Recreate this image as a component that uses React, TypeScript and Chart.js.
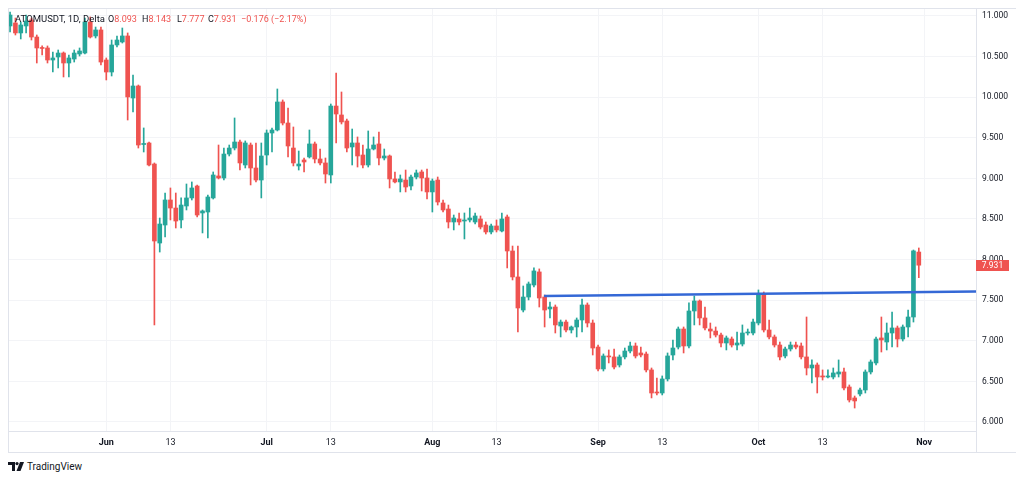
import React, { useEffect, useRef } from "react";
import { Chart, registerables } from "chart.js";

Chart.register(...registerables);

// Daily candles, first one 18 days before Jun 1 (day 0 = Jun 1)
const FIRST_DAY = -18;

const OPEN = [
  10.877, 10.914, 10.791, 10.877, 10.951, 10.741, 10.612, 10.606, 10.458, 10.495,
  10.544, 10.421, 10.470, 10.532, 10.544, 10.926, 10.754, 10.828, 10.458, 10.310,
  10.643, 10.680, 10.754, 9.990, 10.138, 9.417, 9.436, 9.177, 8.204, 8.426,
  8.734, 8.635, 8.488, 8.660, 8.759, 8.906, 8.574, 8.586, 8.759, 9.030,
  9.005, 9.300, 9.374, 9.448, 9.165, 9.411, 9.128, 8.980, 9.288, 9.559,
  9.596, 9.941, 9.682, 9.374, 9.153, 9.227, 9.264, 9.424, 9.239, 9.190,
  9.042, 9.891, 9.781, 9.707, 9.387, 9.436, 9.288, 9.165, 9.362, 9.424,
  9.251, 9.276, 8.993, 8.956, 8.980, 8.906, 9.017, 9.079, 9.005, 8.833,
  8.980, 8.697, 8.623, 8.463, 8.500, 8.475, 8.488, 8.463, 8.500, 8.426,
  8.340, 8.414, 8.352, 8.525, 8.106, 7.786, 7.379, 7.539, 7.687, 7.848,
  7.539, 7.392, 7.416, 7.182, 7.231, 7.133, 7.170, 7.256, 7.441, 7.219,
  6.923, 6.653, 6.813, 6.801, 6.702, 6.801, 6.874, 6.936, 6.850, 6.837,
  6.641, 6.369, 6.357, 6.530, 6.825, 6.923, 7.145, 6.936, 7.367, 7.490,
  7.281, 7.145, 7.120, 7.071, 6.973, 7.022, 6.948, 6.960, 7.096, 7.096,
  7.219, 7.577, 7.133, 7.047, 6.948, 6.813, 6.899, 6.948, 6.936, 6.801,
  6.665, 6.702, 6.567, 6.554, 6.554, 6.591, 6.616, 6.431, 6.296, 6.345,
  6.394, 6.616, 6.727, 7.035, 6.985, 7.096, 7.158, 7.022, 7.170, 7.293,
  8.093,
];

const HIGH = [
  11.049, 10.975, 10.926, 11.012, 10.975, 10.766, 10.631, 10.631, 10.557, 10.581,
  10.557, 10.520, 10.581, 10.606, 10.975, 10.988, 10.864, 10.864, 10.483, 10.704,
  10.754, 10.852, 10.791, 10.273, 10.150, 9.621, 9.448, 9.190, 8.512, 8.820,
  8.882, 8.820, 8.759, 8.931, 8.956, 8.919, 8.611, 8.795, 9.079, 9.411,
  9.374, 9.411, 9.744, 9.473, 9.461, 9.436, 9.436, 9.436, 9.596, 9.621,
  10.101, 9.966, 9.867, 9.633, 9.337, 9.251, 9.596, 9.448, 9.362, 9.251,
  9.916, 10.298, 10.064, 9.731, 9.608, 9.510, 9.411, 9.584, 9.510, 9.571,
  9.362, 9.288, 9.079, 9.042, 9.103, 9.042, 9.103, 9.103, 9.116, 8.993,
  9.017, 8.734, 8.672, 8.549, 8.574, 8.574, 8.635, 8.574, 8.537, 8.463,
  8.438, 8.488, 8.574, 8.549, 8.167, 8.167, 7.675, 7.724, 7.897, 7.885,
  7.564, 7.478, 7.441, 7.256, 7.256, 7.182, 7.281, 7.515, 7.466, 7.256,
  6.948, 6.838, 6.887, 6.899, 6.825, 6.911, 6.985, 6.973, 6.923, 6.862,
  6.665, 6.542, 6.567, 6.850, 7.010, 7.170, 7.170, 7.466, 7.552, 7.503,
  7.416, 7.219, 7.170, 7.096, 7.059, 7.047, 7.108, 7.195, 7.145, 7.268,
  7.626, 7.601, 7.256, 7.071, 6.985, 6.923, 6.985, 6.985, 6.973, 7.293,
  6.764, 6.727, 6.641, 6.641, 6.665, 6.764, 6.665, 6.456, 6.320, 6.419,
  6.641, 6.764, 7.047, 7.293, 7.219, 7.355, 7.182, 7.195, 7.379, 8.118,
  8.143,
];

const LOW = [
  10.803, 10.766, 10.717, 10.791, 10.704, 10.421, 10.520, 10.421, 10.310, 10.360,
  10.249, 10.249, 10.433, 10.507, 10.532, 10.729, 10.729, 10.396, 10.212, 10.261,
  10.618, 10.667, 9.719, 9.818, 9.374, 9.325, 9.153, 7.195, 8.093, 8.278,
  8.488, 8.389, 8.389, 8.611, 8.734, 8.525, 8.328, 8.266, 8.746, 8.993,
  8.980, 9.276, 9.350, 9.103, 9.128, 8.919, 8.956, 8.759, 9.165, 9.325,
  9.584, 9.658, 9.264, 9.153, 9.103, 9.079, 9.251, 9.190, 9.165, 8.943,
  8.943, 9.436, 9.670, 9.325, 9.165, 9.140, 9.128, 9.140, 9.350, 9.165,
  9.227, 8.882, 8.943, 8.833, 8.833, 8.857, 8.993, 8.845, 8.746, 8.586,
  8.672, 8.586, 8.389, 8.365, 8.426, 8.254, 8.463, 8.438, 8.377, 8.315,
  8.315, 8.340, 8.340, 7.897, 7.749, 7.108, 7.355, 7.503, 7.663, 7.416,
  7.170, 7.281, 7.096, 7.047, 7.108, 7.096, 7.047, 7.108, 7.170, 6.825,
  6.628, 6.628, 6.727, 6.653, 6.677, 6.776, 6.850, 6.788, 6.801, 6.616,
  6.296, 6.333, 6.333, 6.505, 6.764, 6.899, 6.850, 6.911, 7.195, 7.195,
  7.133, 7.035, 7.047, 6.923, 6.887, 6.923, 6.887, 6.936, 7.071, 7.071,
  7.195, 7.108, 7.022, 6.923, 6.764, 6.788, 6.874, 6.899, 6.776, 6.579,
  6.480, 6.357, 6.517, 6.542, 6.530, 6.554, 6.394, 6.246, 6.172, 6.320,
  6.357, 6.591, 6.702, 6.862, 6.887, 6.924, 6.924, 6.997, 7.047, 7.231,
  7.777,
];

const CLOSE = [
  11.012, 10.791, 10.889, 10.938, 10.741, 10.606, 10.600, 10.458, 10.483, 10.544,
  10.421, 10.483, 10.544, 10.569, 10.926, 10.741, 10.828, 10.433, 10.310, 10.643,
  10.704, 10.754, 10.003, 10.138, 9.411, 9.430, 9.165, 8.229, 8.438, 8.734,
  8.635, 8.475, 8.672, 8.759, 8.882, 8.549, 8.599, 8.771, 9.042, 9.005,
  9.300, 9.374, 9.448, 9.190, 9.436, 9.128, 8.980, 9.276, 9.559, 9.596,
  9.941, 9.682, 9.399, 9.190, 9.177, 9.202, 9.424, 9.239, 9.190, 9.054,
  9.891, 9.793, 9.695, 9.374, 9.436, 9.276, 9.165, 9.362, 9.411, 9.251,
  9.276, 8.993, 8.956, 8.993, 8.894, 9.017, 9.067, 9.005, 8.833, 8.968,
  8.709, 8.611, 8.463, 8.512, 8.463, 8.488, 8.512, 8.537, 8.401, 8.340,
  8.414, 8.365, 8.500, 8.106, 7.786, 7.404, 7.539, 7.700, 7.860, 7.527,
  7.379, 7.416, 7.195, 7.231, 7.133, 7.170, 7.256, 7.441, 7.219, 6.911,
  6.653, 6.813, 6.801, 6.677, 6.801, 6.874, 6.936, 6.813, 6.825, 6.641,
  6.357, 6.357, 6.530, 6.813, 6.911, 7.145, 6.936, 7.367, 7.490, 7.281,
  7.158, 7.120, 7.071, 6.973, 7.035, 6.948, 6.973, 7.096, 7.108, 7.231,
  7.577, 7.133, 7.047, 6.948, 6.801, 6.899, 6.948, 6.923, 6.801, 6.665,
  6.702, 6.554, 6.554, 6.567, 6.604, 6.616, 6.419, 6.271, 6.259, 6.394,
  6.616, 6.739, 7.022, 7.010, 7.096, 7.158, 7.022, 7.170, 7.293, 8.107,
  7.931,
];

// Horizontal trend line (day, price)
const TREND_DAYS = [81.9, 163.5];
const TREND_PRICES = [7.552, 7.607];

// Axes
const X_TICK_DAYS = [0, 12, 30, 42, 61, 73, 92, 104, 122, 134, 153];
const X_TICK_LABELS = ["Jun", "13", "Jul", "13", "Aug", "13", "Sep", "13", "Oct", "13", "Nov"];
const X_TICK_BOLD = [true, false, true, false, true, false, true, false, true, false, true];
const Y_TICKS = [6, 6.5, 7, 7.5, 8, 8.5, 9, 9.5, 10, 10.5, 11];
const X_MIN = -18.2;
const X_MAX = 162.7;
const Y_MIN = 5.889;
const Y_MAX = 11.086;

const SYMBOL = "ATOMUSDT, 1D, Delta";

const UP = "#26a69a";
const DOWN = "#ef5350";
const TREND_COLOR = "#3468d6";
const FONT = "Roboto, 'Liberation Sans', sans-serif";

const last = OPEN.length - 1;
const lastUp = CLOSE[last] >= OPEN[last];
const change = CLOSE[last] - CLOSE[last - 1];
const changePct = (change / CLOSE[last - 1]) * 100;
const fmtSigned = (v: number, d: number) => (v < 0 ? "\u2212" : "+") + Math.abs(v).toFixed(d);

const priceLabelPlugin = {
  id: "priceLabel",
  afterDraw(chart: any) {
    const { ctx, chartArea, scales } = chart;
    const y = scales.y.getPixelForValue(CLOSE[last]);
    ctx.save();
    ctx.strokeStyle = "#e0e3eb";
    ctx.lineWidth = 1;
    ctx.beginPath();
    ctx.moveTo(Math.round(chartArea.right) + 0.5, chartArea.bottom);
    ctx.lineTo(Math.round(chartArea.right) + 0.5, chart.height);
    ctx.stroke();
    ctx.fillStyle = lastUp ? UP : DOWN;
    ctx.fillRect(chartArea.right, Math.round(y - 5.5), 33, 11);
    ctx.fillStyle = "#ffffff";
    ctx.font = `8.5px ${FONT}`;
    ctx.textAlign = "center";
    ctx.textBaseline = "middle";
    ctx.fillText(CLOSE[last].toFixed(3), chartArea.right + 16.5, y + 0.5);
    ctx.restore();
  },
};

function CandleChart() {
  const ref = useRef<HTMLCanvasElement | null>(null);

  useEffect(() => {
    if (!ref.current) return;
    const colors = OPEN.map((o, i) => (CLOSE[i] >= o ? UP : DOWN));
    const wicks = OPEN.map((_, i) => ({ x: FIRST_DAY + i, y: [LOW[i], HIGH[i]] }));
    const bodies = OPEN.map((o, i) => ({ x: FIRST_DAY + i, y: [o, CLOSE[i]] }));
    const trend = TREND_DAYS.map((d, i) => ({ x: d, y: TREND_PRICES[i] }));

    const chart = new Chart(ref.current, {
      type: "bar",
      data: {
        datasets: [
          {
            type: "line",
            data: trend as any,
            borderColor: TREND_COLOR,
            borderWidth: 2.5,
            pointRadius: 0,
            order: 0,
          } as any,
          {
            data: bodies as any,
            backgroundColor: colors,
            barThickness: 4,
            minBarLength: 1,
            grouped: false,
            borderWidth: 0,
            order: 1,
          } as any,
          {
            data: wicks as any,
            backgroundColor: colors,
            barThickness: 1,
            grouped: false,
            borderWidth: 0,
            order: 2,
          } as any,
        ],
      },
      options: {
        responsive: false,
        animation: false,
        events: [],
        layout: { padding: 0 },
        plugins: { legend: { display: false }, tooltip: { enabled: false } },
        scales: {
          x: {
            type: "linear",
            min: X_MIN,
            max: X_MAX,
            offset: false,
            afterBuildTicks: (s: any) => {
              s.ticks = X_TICK_DAYS.map((v) => ({ value: v }));
            },
            afterFit: (s: any) => {
              s.height = 21;
              s.paddingLeft = 0;
              s.paddingRight = 0;
            },
            ticks: {
              autoSkip: false,
              maxRotation: 0,
              padding: 6,
              color: "#131722",
              callback: (_v: any, i: number) => X_TICK_LABELS[i],
              font: (ctx: any) => ({
                family: FONT,
                size: 9,
                weight: X_TICK_BOLD[ctx.index] ? "bold" : "normal",
              }),
            },
            grid: { color: "#f3f4f7", drawTicks: false, offset: false },
            border: { display: true, color: "#e0e3eb" },
          },
          y: {
            type: "linear",
            position: "right",
            min: Y_MIN,
            max: Y_MAX,
            afterBuildTicks: (s: any) => {
              s.ticks = Y_TICKS.map((v) => ({ value: v }));
            },
            afterFit: (s: any) => {
              s.width = 41;
              s.paddingTop = 0;
              s.paddingBottom = 0;
            },
            ticks: {
              padding: 6,
              color: "#131722",
              font: { family: FONT, size: 8.5 },
              callback: (v: any) => Number(v).toFixed(3),
            },
            grid: { color: "#f3f4f7", drawTicks: false },
            border: { display: true, color: "#e0e3eb" },
          },
        },
      } as any,
      plugins: [priceLabelPlugin],
    });
    return () => chart.destroy();
  }, []);

  const valStyle = { color: lastUp ? UP : DOWN };
  const legendBase: any = {
    position: "absolute",
    top: 4,
    fontFamily: FONT,
    fontSize: 9,
    lineHeight: "12px",
    color: "#131722",
    whiteSpace: "nowrap",
    pointerEvents: "none",
  };
  return (
    <div>
      <div
        style={{
          position: "relative",
          width: 1008,
          height: 443,
          border: "1px solid #e0e3eb",
          background: "#ffffff",
        }}
      >
        <canvas ref={ref} width={1008} height={443} style={{ display: "block", width: 1008, height: 443 }} />
        <div style={{ ...legendBase, left: 6, top: 4, fontSize: 9.5 }}>{SYMBOL}</div>
        <div style={{ ...legendBase, left: 99 }}>
          O<span style={valStyle}>{OPEN[last].toFixed(3)}</span>
        </div>
        <div style={{ ...legendBase, left: 133 }}>
          H<span style={valStyle}>{HIGH[last].toFixed(3)}</span>
        </div>
        <div style={{ ...legendBase, left: 168 }}>
          L<span style={valStyle}>{LOW[last].toFixed(3)}</span>
        </div>
        <div style={{ ...legendBase, left: 199 }}>
          C<span style={valStyle}>{CLOSE[last].toFixed(3)}</span>
        </div>
        <div style={{ ...legendBase, ...valStyle, left: 232 }}>
          {fmtSigned(change, 3)} ({fmtSigned(changePct, 2)}%)
        </div>
      </div>
      <div
        style={{
          display: "flex",
          alignItems: "center",
          height: 14,
          marginTop: 6,
          fontFamily: FONT,
          fontSize: 10,
          color: "#131722",
        }}
      >
        <svg width="16" height="9" viewBox="0 0 16 9" style={{ marginRight: 3 }}>
          <path d="M0 0 H7 V9 H4 V3 H0 Z" fill="#131722" />
          <circle cx="9" cy="1.6" r="1.6" fill="#131722" />
          <path d="M12 0 H16 L12.5 9 H8.5 Z" fill="#131722" />
        </svg>
        <span>TradingView</span>
      </div>
    </div>
  );
}

export default function App() {
  return <CandleChart />;
}
